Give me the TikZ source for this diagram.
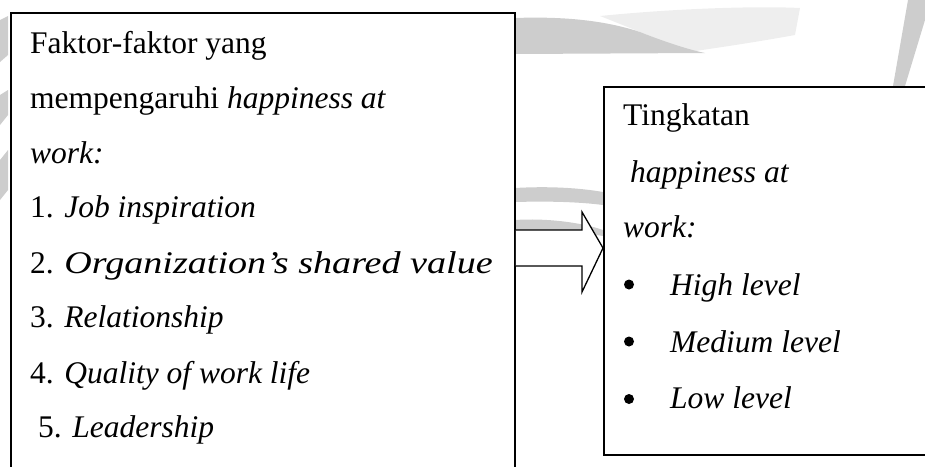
\documentclass[tikz,border=0pt]{standalone}
\usepackage{fontspec}
\setmainfont{Liberation Serif}
\usetikzlibrary{calc}
\definecolor{wm}{HTML}{CDCDCD}
\definecolor{wmlight}{HTML}{EEEEEE}
\tikzset{
  box/.style={draw=black, line width=1.9pt, fill=none, inner sep=0pt},
  txt/.style={anchor=base west, inner sep=0pt, font=\fontsize{31.5}{55}\selectfont},
  dot/.style={circle, fill=black, draw=none, inner sep=0pt, minimum size=10pt},
  blockarrow/.style={draw=black, line width=1.3pt, fill=white, line join=miter}
}
\begin{document}
\begin{tikzpicture}[x=1pt,y=-1pt]
\useasboundingbox (0,0) rectangle (925,466);
\clip (0,0) rectangle (925,466);
% faint watermark
\fill[wmlight] (600,16) .. controls (680,8) and (760,6) .. (800,8) -- (795,35) .. controls (740,45) and (700,50) .. (690,52) -- cycle;
\fill[wm] (515,18) .. controls (570,16) and (610,22) .. (640,32) .. controls (665,42) and (690,50) .. (705,53) -- (515,54) -- cycle;
\fill[wm] (515,188) .. controls (550,186) and (580,188) .. (603,192) -- (603,205) .. controls (580,202) and (550,201) .. (515,202) -- cycle;
\fill[wm] (515,220) .. controls (545,218) and (580,222) .. (603,230) -- (603,236) .. controls (580,232) and (545,230) .. (515,231) -- cycle;
\fill[wm] (908,0) -- (925,0) -- (925,20) -- (905,86) -- (893,86) -- cycle;
\fill[wm] (0,20) -- (8,16) -- (8,55) -- (0,62) -- cycle;
\fill[wm] (0,95) -- (8,90) -- (8,115) -- (0,125) -- cycle;
\fill[wm] (0,160) -- (8,150) -- (8,190) -- (0,200) -- cycle;
% boxes
\node[box, anchor=north west, minimum width=504pt, minimum height=520pt] (L) at (10,12) {};
\node[box, anchor=north west, minimum width=400pt, minimum height=368pt, fill=white] (R) at (603,86) {};
% block arrow between the boxes
\coordinate (ytop) at (0,230);
\coordinate (ybot) at (0,266);
\coordinate (ymid) at (0,248);
\coordinate (htop) at (582,212);
\coordinate (hbot) at (582,292);
\draw[blockarrow] (L.east |- ytop) -- (htop |- ytop) -- (htop) -- (R.west |- ymid) -- (hbot) -- (hbot |- ybot) -- (L.east |- ybot);
% left box text
\node[txt] (l1) at (30,53) {Faktor-faktor yang};
\node[txt] (l2) at (30,108) {mempengaruhi \textit{happiness at}};
\node[txt] (l3) at (30,163) {\textit{work:}};
\node[txt] (l4) at (30,217) {1. \textit{Job inspiration}};
\node[txt] (l5) at (30,273) {2. \scalebox{1.21}[1]{\textit{Organization’s shared value}}};
\node[txt] (l6) at (30,327) {3. \textit{Relationship}};
\node[txt] (l7) at (30,383) {4. \textit{Quality of work life}};
\node[txt] (l8) at (38,437) {5. \textit{Leadership}};
% right box text
\node[txt] (r1) at (623,125) {Tingkatan};
\node[txt] (r2) at (630,182) {\textit{happiness at}};
\node[txt] (r3) at (623,237) {\textit{work:}};
\node[dot] (b1) at (629,284.5) {};
\node[txt] (r4) at (670,295) {\textit{High level}};
\node[dot] (b2) at (629,341.5) {};
\node[txt] (r5) at (670,352) {\textit{Medium level}};
\node[dot] (b3) at (629,399) {};
\node[txt] (r6) at (670,408) {\textit{Low level}};
\end{tikzpicture}
\end{document}
